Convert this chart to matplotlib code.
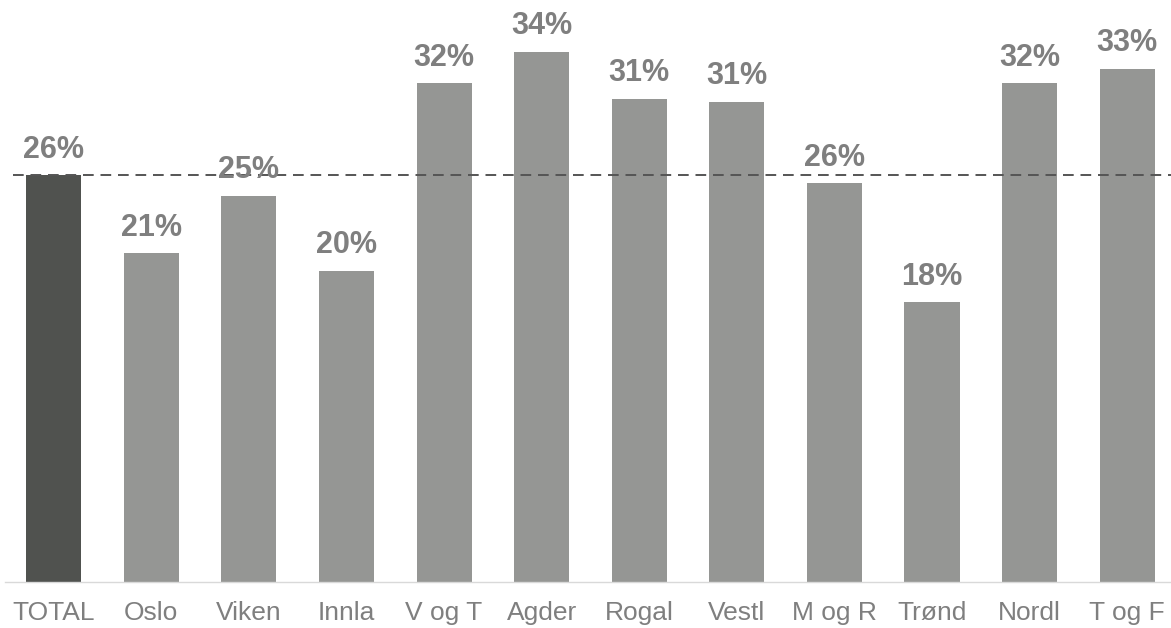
import matplotlib.pyplot as plt
import numpy as np

plt.rcParams['font.family'] = ['Liberation Sans', 'DejaVu Sans']

regions = ['TOTAL', 'Oslo', 'Viken', 'Innla', 'V og T', 'Agder', 'Rogal',
           'Vestl', 'M og R', 'Trønd', 'Nordl', 'T og F']
values = [26, 21.0, 24.7, 19.9, 31.9, 33.9, 30.9, 30.7, 25.5, 17.9, 31.9, 32.8]
labels = ['26%', '21%', '25%', '20%', '32%', '34%', '31%', '31%', '26%', '18%', '32%', '33%']
total = values[0]

colors = ['#50524f'] + ['#959694'] * (len(regions) - 1)

fig = plt.figure(figsize=(11.71, 6.28), dpi=100)
ax = fig.add_axes([5 / 1171, 46 / 628, 1166 / 1171, 582 / 628])

x = np.arange(len(regions))
ax.bar(x, values, width=0.565, color=colors, zorder=2)

# dashed reference line at the total
ax.axhline(total, xmin=0.007, color='#555555', lw=1.4, ls=(0, (5.5, 3.5)), zorder=3)

for xi, v, lab in zip(x, values, labels):
    ax.annotate(lab, (xi, v), xytext=(0, 12.5), textcoords='offset points',
                ha='center', va='baseline', fontsize=22, fontweight='bold',
                color='#7f7f7f', zorder=4)

ax.set_xlim(-0.5, 11.45)
ax.set_ylim(0, 37.2)
ax.set_xticks(x)
ax.set_xticklabels(regions, fontsize=19, color='#7f7f7f')
ax.tick_params(axis='x', length=0, pad=14)
ax.set_yticks([])
for s in ['top', 'left', 'right']:
    ax.spines[s].set_visible(False)
ax.spines['bottom'].set_color('#d9d9d9')
ax.spines['bottom'].set_linewidth(1.0)

fig.savefig('out.png', dpi=100)
